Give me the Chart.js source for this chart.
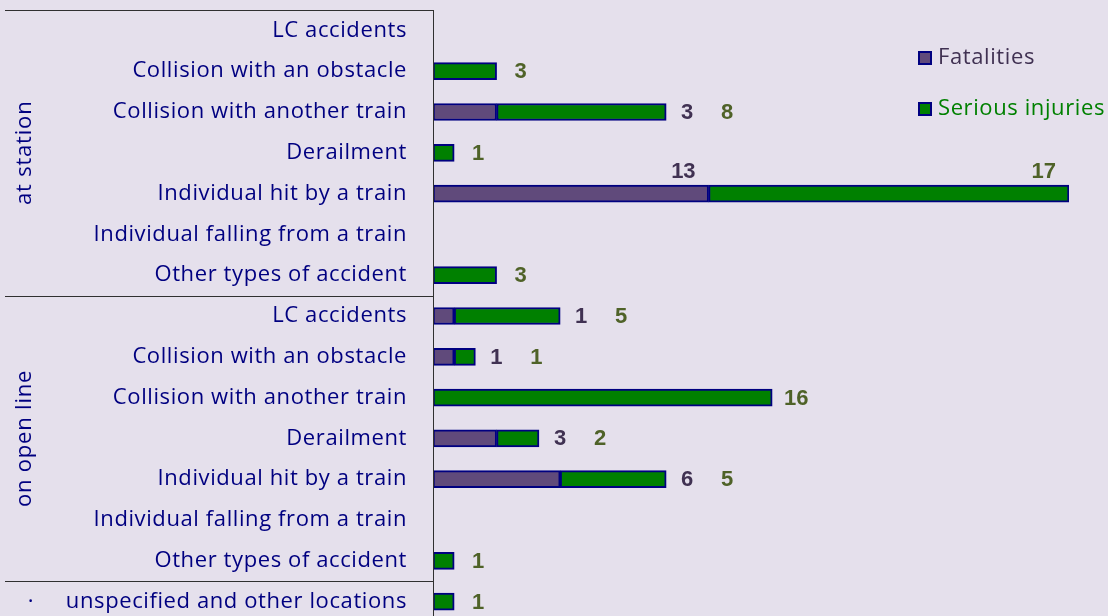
<!DOCTYPE html>
<html>
<head>
<meta charset="utf-8">
<script src="https://cdn.jsdelivr.net/npm/chart.js@4"></script>
<style>
  html, body { margin: 0; padding: 0; background: #e5e0ec; overflow: hidden; }
  #wrap { position: absolute; left: 0; top: 0; width: 1108px; height: 622px; }
</style>
</head>
<body>
<div id="wrap"><canvas id="chart" width="1108" height="622"></canvas></div>
<script>
const categories = [
  "LC accidents", "Collision with an obstacle", "Collision with another train",
  "Derailment", "Individual hit by a train", "Individual falling from a train",
  "Other types of accident",
  "LC accidents", "Collision with an obstacle", "Collision with another train",
  "Derailment", "Individual hit by a train", "Individual falling from a train",
  "Other types of accident",
  "unspecified and other locations"
];
const groups = [
  { label: "at station", from: 0, to: 6 },
  { label: "on open line", from: 7, to: 13 },
  { label: "·", from: 14, to: 14 }
];
const fatalities = [null, null, 3, null, 13, null, null, 1, 1, null, 3, 6, null, null, null];
const seriousInjuries = [null, 3, 8, 1, 17, null, 3, 5, 1, 16, 2, 5, null, 1, 1];

const navy = "#000080";
const labelFont = "'Open Sans', sans-serif";

// wider spacing for the category labels (Calibri-like width)
const spacingPlugin = {
  id: "spacing",
  beforeDraw(chart) { chart.ctx.letterSpacing = "0.6px"; },
  beforeDatasetsDraw(chart) { chart.ctx.letterSpacing = "0px"; }
};

// group labels, separators, axis line
const groupPlugin = {
  id: "groups",
  afterDraw(chart) {
    const ctx = chart.ctx;
    const y = chart.scales.y;
    const area = chart.chartArea;
    const step = y.getPixelForValue(1) - y.getPixelForValue(0);
    ctx.save();
    ctx.strokeStyle = "#303030";
    ctx.lineWidth = 1;
    ctx.beginPath();
    ctx.moveTo(area.left + 0.5, area.top);
    ctx.lineTo(area.left + 0.5, chart.height);
    ctx.moveTo(5, area.top + 0.5);
    ctx.lineTo(area.left, area.top + 0.5);
    groups.forEach((g, i) => {
      if (i === 0) return;
      const yy = Math.round(y.getPixelForValue(g.from) - step / 2) + 0.5;
      ctx.moveTo(5, yy);
      ctx.lineTo(area.left, yy);
    });
    ctx.stroke();

    ctx.fillStyle = navy;
    ctx.font = "22px " + labelFont;
    ctx.letterSpacing = "0.8px";
    ctx.textAlign = "center";
    ctx.textBaseline = "middle";
    groups.forEach(g => {
      const cy = (y.getPixelForValue(g.from) + y.getPixelForValue(g.to)) / 2;
      ctx.save();
      ctx.translate(g.from === g.to ? 31 : 25, cy);
      if (g.from !== g.to) ctx.rotate(-Math.PI / 2);
      ctx.fillText(g.label, 0, 0);
      ctx.restore();
    });
    ctx.letterSpacing = "0px";
    ctx.restore();
  }
};

// value labels next to the bars
const valuePlugin = {
  id: "values",
  afterDatasetsDraw(chart) {
    const ctx = chart.ctx;
    const m0 = chart.getDatasetMeta(0);
    const m1 = chart.getDatasetMeta(1);
    ctx.save();
    ctx.font = "bold 22px 'Liberation Sans', Arial, sans-serif";
    ctx.textBaseline = "middle";
    categories.forEach((c, i) => {
      const f = fatalities[i];
      const s = seriousInjuries[i];
      const bf = m0.data[i];
      const bs = m1.data[i];
      const cy = (s != null ? bs : bf).y + 1;
      const end = s != null ? bs.x : bf.x;
      if (end + 75 > chart.width) {
        ctx.textAlign = "right";
        if (f != null) { ctx.fillStyle = "#403152"; ctx.fillText(String(f), bf.x - 13, cy - 23); }
        if (s != null) { ctx.fillStyle = "#4f6228"; ctx.fillText(String(s), bs.x - 13, cy - 23); }
        return;
      }
      ctx.textAlign = "center";
      if (f != null && s != null) {
        ctx.fillStyle = "#403152"; ctx.fillText(String(f), end + 21, cy);
        ctx.fillStyle = "#4f6228"; ctx.fillText(String(s), end + 61, cy);
      } else if (s != null) {
        ctx.fillStyle = "#4f6228"; ctx.fillText(String(s), end + 24, cy);
      } else if (f != null) {
        ctx.fillStyle = "#403152"; ctx.fillText(String(f), end + 24, cy);
      }
    });
    ctx.restore();
  }
};

// legend inside the plot, top right
const legendPlugin = {
  id: "innerLegend",
  afterDraw(chart) {
    const ctx = chart.ctx;
    const items = [
      { ds: chart.data.datasets[0], color: "#403152", y: 58 },
      { ds: chart.data.datasets[1], color: "#008000", y: 109 }
    ];
    ctx.save();
    ctx.font = "22px " + labelFont;
    ctx.letterSpacing = "0.6px";
    ctx.textAlign = "left";
    ctx.textBaseline = "middle";
    items.forEach(it => {
      ctx.fillStyle = it.ds.backgroundColor;
      ctx.fillRect(919, it.y - 6, 12, 12);
      ctx.strokeStyle = navy;
      ctx.lineWidth = 2;
      ctx.strokeRect(919, it.y - 6, 12, 12);
      ctx.fillStyle = it.color;
      ctx.fillText(it.ds.label, 938, it.y);
    });
    ctx.letterSpacing = "0px";
    ctx.restore();
  }
};

new Chart(document.getElementById("chart"), {
  type: "bar",
  data: {
    labels: categories,
    datasets: [
      {
        label: "Fatalities",
        data: fatalities,
        backgroundColor: "#604a7b",
        borderColor: navy,
        borderWidth: 2,
        borderSkipped: false,
        barThickness: 17
      },
      {
        label: "Serious injuries",
        data: seriousInjuries,
        backgroundColor: "#008000",
        borderColor: navy,
        borderWidth: 2,
        borderSkipped: false,
        barThickness: 17
      }
    ]
  },
  options: {
    indexAxis: "y",
    responsive: false,
    animation: false,
    layout: { padding: { top: 10, right: 39, bottom: 0, left: 0 } },
    plugins: {
      legend: { display: false },
      tooltip: { enabled: false }
    },
    scales: {
      x: {
        stacked: true,
        display: false,
        min: 0,
        max: 30
      },
      y: {
        stacked: true,
        grid: { display: false, drawTicks: false },
        border: { display: false },
        afterFit(scale) {
          scale.width = 433;
          scale.paddingTop = 0;
          scale.paddingBottom = 0;
        },
        ticks: {
          color: navy,
          padding: 26,
          autoSkip: false,
          font: { family: labelFont, size: 22 }
        }
      }
    }
  },
  plugins: [spacingPlugin, groupPlugin, valuePlugin, legendPlugin]
});
</script>
</body>
</html>
